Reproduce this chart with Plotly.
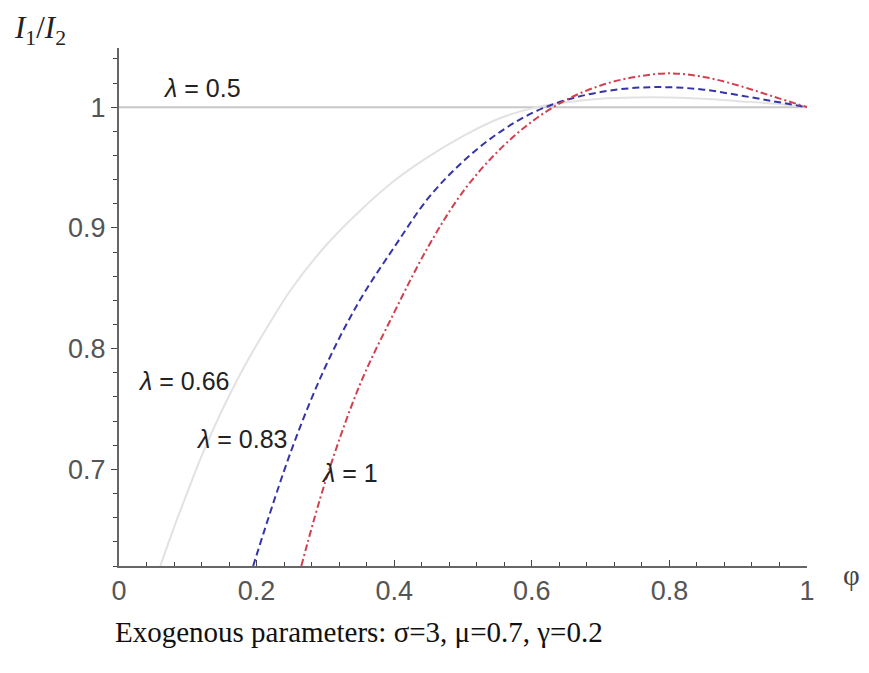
import plotly.graph_objects as go

# data
phi_05 = [0.0, 1.0]
ratio_05 = [1.0, 1.0]

phi_066 = [0.06, 0.08, 0.1, 0.12, 0.14, 0.16, 0.18, 0.2, 0.22, 0.25, 0.3, 0.35, 0.4, 0.45, 0.5, 0.55, 0.6, 0.65, 0.7, 0.75, 0.8, 0.85, 0.9, 0.95, 1.0]
ratio_066 = [0.62, 0.652, 0.682, 0.711, 0.737, 0.761, 0.783, 0.803, 0.822, 0.849, 0.885, 0.914, 0.939, 0.959, 0.976, 0.99, 0.999, 1.004, 1.007, 1.008, 1.008, 1.007, 1.005, 1.003, 1.0]

phi_083 = [0.195, 0.25, 0.3, 0.35, 0.4, 0.45, 0.5, 0.55, 0.6, 0.65, 0.7, 0.75, 0.8, 0.85, 0.9, 0.95, 1.0]
ratio_083 = [0.62, 0.715, 0.785, 0.84, 0.884, 0.925, 0.955, 0.978, 0.995, 1.006, 1.0125, 1.016, 1.0165, 1.0145, 1.01, 1.005, 1.0]

phi_1 = [0.265, 0.3, 0.35, 0.4, 0.45, 0.5, 0.55, 0.6, 0.65, 0.7, 0.75, 0.8, 0.85, 0.9, 0.95, 1.0]
ratio_1 = [0.62, 0.69, 0.77, 0.83, 0.885, 0.93, 0.963, 0.988, 1.006, 1.018, 1.025, 1.028, 1.025, 1.018, 1.009, 1.0]

x_ticks = [0, 0.2, 0.4, 0.6, 0.8, 1]
x_ticklabels = ["0", "0.2", "0.4", "0.6", "0.8", "1"]
y_ticks = [0.7, 0.8, 0.9, 1.0]
y_ticklabels = ["0.7", "0.8", "0.9", "1"]

fig = go.Figure()
fig.add_trace(go.Scatter(x=phi_05, y=ratio_05, mode="lines",
                         line=dict(color="#c8c8c8", width=2), showlegend=False))
fig.add_trace(go.Scatter(x=phi_066, y=ratio_066, mode="lines", line_shape="spline",
                         line=dict(color="#e2e2e2", width=2), showlegend=False))
fig.add_trace(go.Scatter(x=phi_083, y=ratio_083, mode="lines", line_shape="spline",
                         line=dict(color="#3535a8", width=2, dash="7px,4px"), showlegend=False))
fig.add_trace(go.Scatter(x=phi_1, y=ratio_1, mode="lines", line_shape="spline",
                         line=dict(color="#d04050", width=2, dash="7px,3px,2px,3px"), showlegend=False))

lab_font = dict(family="Liberation Sans, Arial", size=25, color="#222")
annos = [
    (0.061, 1.016, "<i>λ</i> = 0.5"),
    (0.025, 0.773, "<i>λ</i> = 0.66"),
    (0.109, 0.725, "<i>λ</i> = 0.83"),
    (0.29, 0.697, "<i>λ</i> = 1"),
]
for ax_, ay_, t in annos:
    fig.add_annotation(x=ax_, y=ay_, text=t, showarrow=False, xanchor="left",
                       yanchor="middle", font=lab_font)

fig.add_annotation(xref="paper", yref="paper", x=-0.156, y=1.035,
                   text="<i>I</i><sub>1</sub>/<i>I</i><sub>2</sub>",
                   showarrow=False, xanchor="left", yanchor="middle",
                   font=dict(family="Liberation Serif, Times New Roman", size=31, color="#222"))
fig.add_annotation(xref="paper", yref="paper", x=1.065, y=-0.018, text="φ",
                   showarrow=False, xanchor="center", yanchor="middle",
                   font=dict(family="Liberation Serif, Times New Roman", size=29, color="#444"))
fig.add_annotation(xref="paper", yref="paper", x=-0.009, y=-0.127,
                   text="Exogenous parameters: σ=3, μ=0.7, γ=0.2",
                   showarrow=False, xanchor="left", yanchor="middle",
                   font=dict(family="Liberation Serif, Times New Roman", size=29, color="#111"))

axis_common = dict(showgrid=False, zeroline=False, showline=True, linecolor="#666",
                   linewidth=2, tickcolor="#444")
fig.update_xaxes(range=[0, 1.0], tickvals=x_ticks, ticktext=x_ticklabels,
                 ticks="inside", ticklen=6,
                 tickfont=dict(family="Liberation Sans, Arial", size=27, color="#555"),
                 minor=dict(dtick=0.04, ticks="inside", ticklen=4, tickcolor="#444"),
                 **axis_common)
fig.update_yaxes(range=[0.62, 1.049], tickvals=y_ticks, ticktext=y_ticklabels,
                 ticks="outside", ticklen=6,
                 tickfont=dict(family="Liberation Sans, Arial", size=27, color="#555"),
                 minor=dict(dtick=0.02, ticks="outside", ticklen=4, tickcolor="#444", tick0=0.62),
                 **axis_common)
fig.update_layout(width=869, height=673, plot_bgcolor="white", paper_bgcolor="white",
                  margin=dict(l=111, r=70, t=40, b=115, autoexpand=False))
fig.write_html("out.html")
